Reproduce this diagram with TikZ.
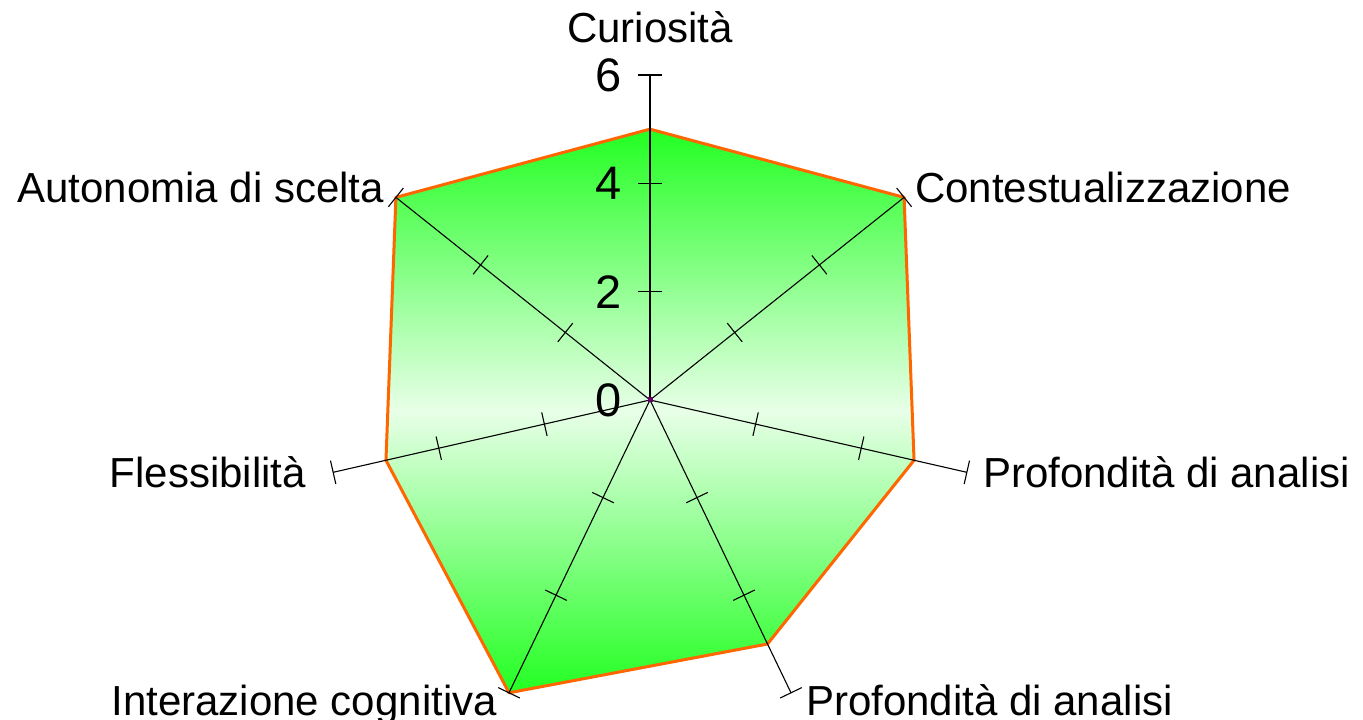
\documentclass[tikz,border=0pt]{standalone}
\usepackage{fontspec}
\setmainfont{Liberation Sans}
\definecolor{fillg}{RGB}{34,255,34}
\definecolor{fillw}{RGB}{232,255,232}
\definecolor{edgeo}{RGB}{255,102,0}
\definecolor{dotp}{RGB}{102,0,102}
\begin{document}
\begin{tikzpicture}[x=1pt,y=1pt,
  axisline/.style={black,line width=1.1pt},
  tickline/.style={black,line width=1.1pt},
  lbl/.style={inner sep=0pt,font=\fontsize{42}{50}\selectfont},
  num/.style={inner sep=0pt,anchor=east,font=\fontsize{47}{56}\selectfont},
  outline/.style={draw=edgeo,line width=3pt,line join=round}]
\useasboundingbox (0,0) rectangle (1363,720);
\coordinate (c) at (650,320);
\def\u{54.1667}
\foreach \i/\ang/\val in {1/90/5,2/38.5714/6,3/-12.8571/5,4/-64.2857/5,5/-115.7143/6,6/-167.1429/5,7/141.4286/6}{
  \coordinate (v\i) at ([shift={(\ang:{\val*\u})}]c);
  \coordinate (e\i) at ([shift={(\ang:{6*\u})}]c);
}
\shade[top color=fillg,bottom color=fillg,middle color=fillw]
  (v1)--(v2)--(v3)--(v4)--(v5)--(v6)--(v7)--cycle;
\draw[outline] (v1)--(v2)--(v3)--(v4)--(v5)--(v6)--(v7)--cycle;
\foreach \i/\ang in {1/90,2/38.5714,3/-12.8571,4/-64.2857,5/-115.7143,6/-167.1429,7/141.4286}{
  \draw[axisline] (c) -- (e\i);
  \foreach \k in {2,4,6}{
    \draw[tickline] ([shift={(\ang:{\k*\u})}]c) ++({\ang+90}:12) -- ++({\ang-90}:24);
  }
}
\node[fill=dotp,inner sep=0pt,minimum size=5pt] (dot) at (c) {};
\node[num] (n6) at (622,645) {6};
\node[num] (n4) at (622,536.7) {4};
\node[num] (n2) at (622,428.3) {2};
\node[num] (n0) at (622,320) {0};
\node[lbl,anchor=base] (l1) at (650,677) {Curiosità};
\node[lbl,anchor=base west] (l2) at (915,517) {Contestualizzazione};
\node[lbl,anchor=base west] (l3) at (983,232) {Profondità di analisi};
\node[lbl,anchor=base west] (l4) at (806,4) {Profondità di analisi};
\node[lbl,anchor=base east] (l5) at (497,4) {Interazione cognitiva};
\node[lbl,anchor=base east] (l6) at (306,232) {Flessibilità};
\node[lbl,anchor=base east] (l7) at (384,517) {Autonomia di scelta};
\end{tikzpicture}
\end{document}
